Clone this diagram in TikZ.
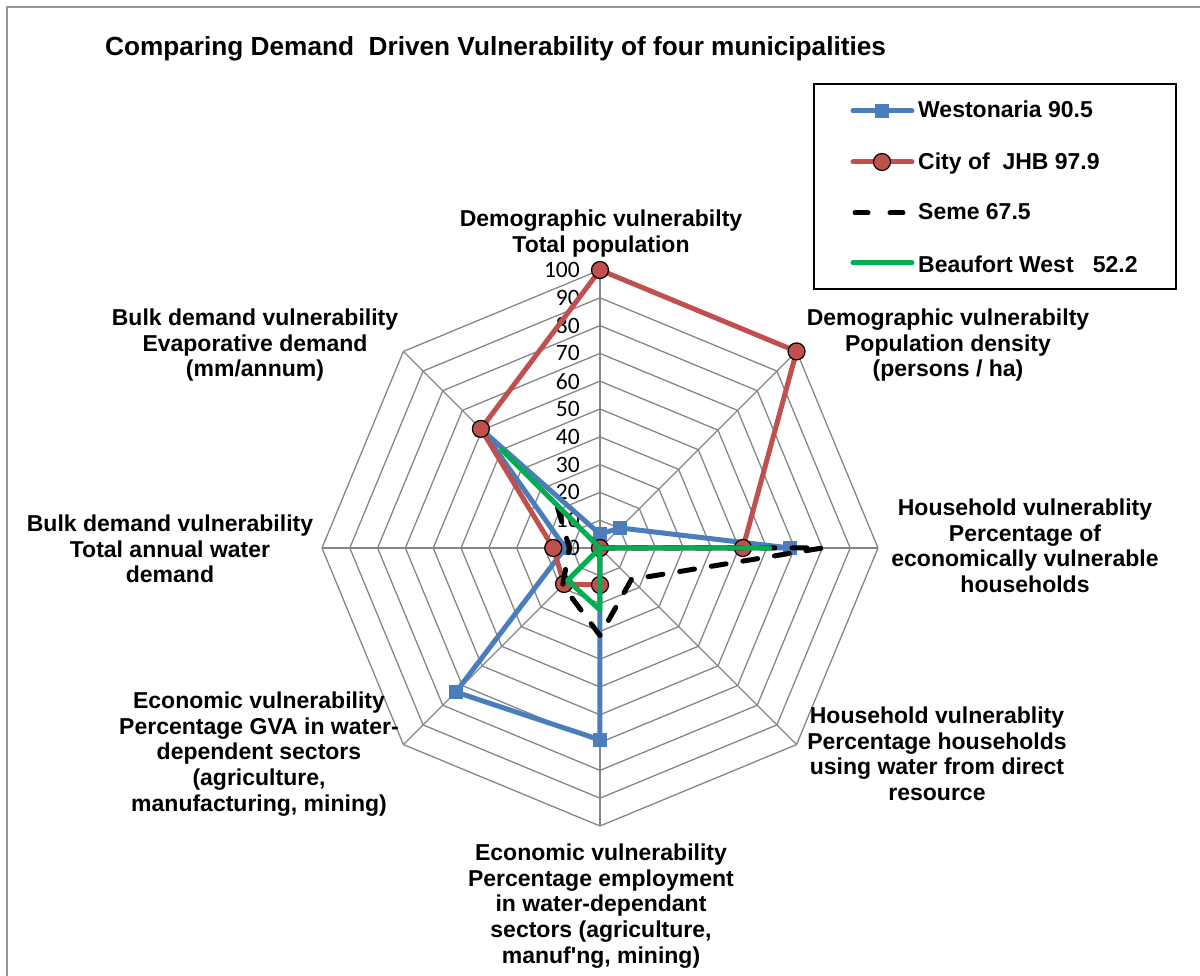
\documentclass[tikz,border=0pt]{standalone}
\usepackage{fontspec}
\setmainfont{Liberation Sans}
\newfontfamily\tickfont{Carlito}
\definecolor{wblue}{RGB}{74,126,187}
\definecolor{jred}{RGB}{192,80,77}
\definecolor{bgreen}{RGB}{0,176,80}
\definecolor{gridgray}{RGB}{134,134,134}
\definecolor{framegray}{RGB}{150,150,150}
\begin{document}
\begin{tikzpicture}[x=1pt,y=1pt,
  gridline/.style={draw=gridgray, line width=1.3pt},
  series/.style={line width=5pt, line join=round},
  semeline/.style={series, black, line cap=round, dash pattern=on 15pt off 17pt},
  lbl/.style={font=\bfseries\fontsize{23}{25.8}\selectfont, align=center, inner sep=0pt, anchor=north},
  legtext/.style={font=\bfseries\fontsize{23}{25.8}\selectfont, inner sep=0pt, anchor=base west},
  tick/.style={font=\tickfont\fontsize{23.5}{23.5}\selectfont, anchor=east, inner sep=0pt},
  sq/.style={rectangle, fill=wblue, draw=none, minimum size=14pt, inner sep=0pt},
  dot/.style={circle, fill=jred, draw=black, line width=1.2pt, minimum size=17pt, inner sep=0pt}
]
\useasboundingbox (-600,-428) rectangle (600,548);
% frame
\draw[framegray, line width=2pt] (-593,-428) -- (-593,541) -- (600,541);
% title
\node[font=\bfseries\fontsize{26.2}{28}\selectfont, anchor=base west, inner sep=0pt] (title) at (-495,492)
  {Comparing Demand\ \ Driven Vulnerability of four municipalities};
% grid
\foreach \k in {1,...,10}
  \draw[gridline] (90:27.8*\k) -- (45:27.8*\k) -- (0:27.8*\k) -- (-45:27.8*\k) -- (-90:27.8*\k)
    -- (-135:27.8*\k) -- (180:27.8*\k) -- (135:27.8*\k) -- cycle;
\foreach \a in {0,45,...,315}
  \draw[gridline] (0,0) -- (\a:278);
% tick labels
\foreach \k [evaluate=\k as \lab using int(10*\k)] in {0,...,10}
  \node[tick] (t\k) at (-20,27.8*\k) {\lab};
% data points
\foreach \v [count=\i] in {5,10.2,68.3,0,69,73.3,12.5,60}
  \coordinate (w\i) at ({135-45*\i}:{2.78*\v});
\foreach \v [count=\i] in {100,100,51.4,0,13.3,18.3,16.8,60.6}
  \coordinate (r\i) at ({135-45*\i}:{2.78*\v});
\foreach \v [count=\i] in {0,0,80,16,31.5,19,11,22}
  \coordinate (s\i) at ({135-45*\i}:{2.78*\v});
\foreach \v [count=\i] in {0,0,61,0,22.3,16.5,0,50}
  \coordinate (g\i) at ({135-45*\i}:{2.78*\v});
% Westonaria
\draw[series, wblue] (w1) -- (w2) -- (w3) -- (w4) -- (w5) -- (w6) -- (w7) -- (w8) -- cycle;
\foreach \i in {1,...,8} \node[sq] (wm\i) at (w\i) {};
% City of JHB
\draw[series, jred] (r1) -- (r2) -- (r3) -- (r4) -- (r5) -- (r6) -- (r7) -- (r8) -- cycle;
\foreach \i in {1,...,8} \node[dot] (rm\i) at (r\i) {};
% Seme
\draw[semeline] (s1) -- (s2) -- (s3) -- (s4) -- (s5) -- (s6) -- (s7) -- (s8) -- cycle;
% Beaufort West
\draw[series, bgreen] (g1) -- (g2) -- (g3) -- (g4) -- (g5) -- (g6) -- (g7) -- (g8) -- cycle;
% axis labels
\node[lbl] (a1) at (1,338.5) {Demographic vulnerabilty\\Total population};
\node[lbl] (a2) at (348,239.5) {Demographic vulnerabilty\\Population density\\(persons / ha)};
\node[lbl] (a3) at (425,49.5) {Household vulnerablity\\Percentage of\\economically vulnerable\\households};
\node[lbl] (a4) at (337,-158.5) {Household vulnerablity\\Percentage households\\using water from direct\\resource};
\node[lbl] (a5) at (1,-295.5) {Economic vulnerability\\Percentage employment\\in water-dependant\\sectors (agriculture,\\manuf\textquotesingle ng, mining)};
\node[lbl] (a6) at (-341,-143.5) {Economic vulnerability\\Percentage GVA in water-\\dependent sectors\\(agriculture,\\manufacturing, mining)};
\node[lbl] (a7) at (-430,33.5) {Bulk demand vulnerability\\Total annual water\\demand};
\node[lbl] (a8) at (-345,239.5) {Bulk demand vulnerability\\Evaporative demand\\(mm/annum)};
% legend
\node[draw=black, line width=1.3pt, minimum width=362pt, minimum height=205pt, inner sep=0pt] (legend) at (395,361.5) {};
\coordinate (l1a) at (253,437); \coordinate (l1b) at (312,437);
\draw[series, wblue, line cap=round] (l1a) -- (l1b);
\node[sq] (l1m) at (282,437) {};
\node[legtext] (l1t) at (318,430) {Westonaria 90.5};
\coordinate (l2a) at (253,386); \coordinate (l2b) at (312,386);
\draw[series, jred, line cap=round] (l2a) -- (l2b);
\node[dot] (l2m) at (282,386) {};
\node[legtext] (l2t) at (318,378) {City of\ \ JHB 97.9};
\coordinate (l3a) at (255,335); \coordinate (l3b) at (303,335);
\draw[series, black, line cap=round, dash pattern=on 13pt off 22pt] (l3a) -- (l3b);
\node[legtext] (l3t) at (318,328) {Seme 67.5};
\coordinate (l4a) at (253,285); \coordinate (l4b) at (312,285);
\draw[series, bgreen, line cap=round] (l4a) -- (l4b);
\node[legtext] (l4t) at (318,275) {Beaufort West\ \ \ 52.2};
\end{tikzpicture}
\end{document}
